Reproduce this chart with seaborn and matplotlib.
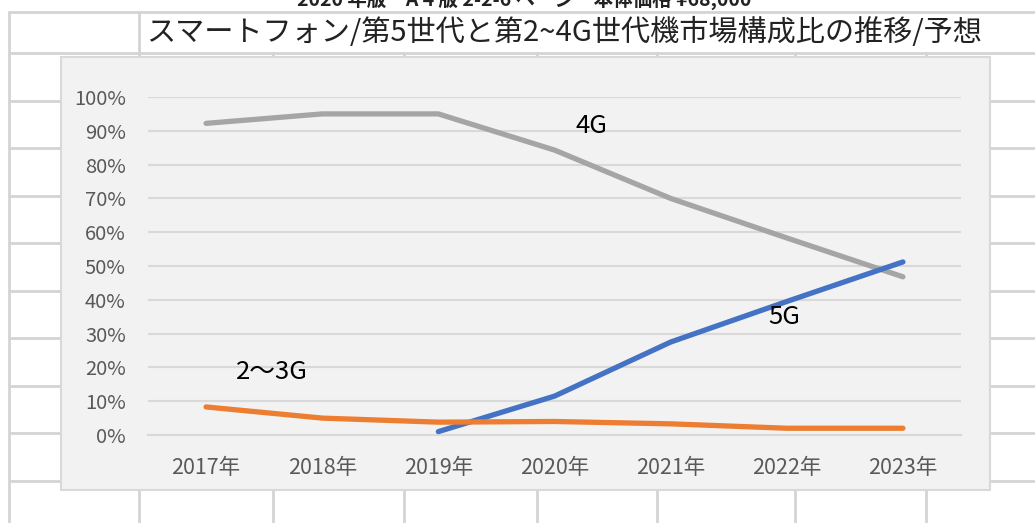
import pandas as pd
import numpy as np
import matplotlib
matplotlib.use("Agg")
import matplotlib.pyplot as plt
from matplotlib.patches import Rectangle
from matplotlib.lines import Line2D
import seaborn as sns

# values (share of smartphone market)
years = ['2017年', '2018年', '2019年', '2020年', '2021年', '2022年', '2023年']
share_4g = [0.922, 0.950, 0.950, 0.843, 0.700, 0.583, 0.468]
share_5g = [np.nan, np.nan, 0.010, 0.115, 0.275, 0.395, 0.512]
share_23g = [0.083, 0.050, 0.038, 0.040, 0.033, 0.020, 0.020]
series_names = ['4G', '5G', '2〜3G']
ytick_vals = [0, 0.1, 0.2, 0.3, 0.4, 0.5, 0.6, 0.7, 0.8, 0.9, 1.0]

df = pd.DataFrame({
    'year': years * 3,
    'share': share_4g + share_5g + share_23g,
    'series': [series_names[0]] * 7 + [series_names[1]] * 7 + [series_names[2]] * 7,
})

sns.set_theme(style='white')
plt.rcParams['font.family'] = ['Noto Sans CJK JP', 'DejaVu Sans']

W, H = 1035, 523
fig = plt.figure(figsize=(W / 100, H / 100), dpi=100, facecolor='white')

def fx(px):
    return px / W

def fy(py):
    return 1 - py / H

# spreadsheet cell lines behind the chart
cell = dict(color='#d4d4d4', lw=2, transform=fig.transFigure, zorder=0)
fig.add_artist(Line2D([fx(9), 1], [fy(12), fy(12)], **cell))
fig.add_artist(Line2D([fx(9), 1], [fy(53), fy(53)], **cell))
fig.add_artist(Line2D([fx(9), fx(9)], [fy(12), 0], **cell))
fig.add_artist(Line2D([fx(139), fx(139)], [fy(12), fy(57)], **cell))
for ry in [101, 148, 196, 243, 291, 338, 386, 433, 481]:
    fig.add_artist(Line2D([fx(9), fx(61)], [fy(ry), fy(ry)], **cell))
    fig.add_artist(Line2D([fx(990), 1], [fy(ry), fy(ry)], **cell))
for cx in [139, 273, 404, 537, 657, 795, 926]:
    fig.add_artist(Line2D([fx(cx), fx(cx)], [fy(490), 0], **cell))
    fig.add_artist(Line2D([fx(cx), fx(cx)], [fy(53), fy(57)], **cell))

# chart area
fig.add_artist(Rectangle((fx(61), fy(490)), fx(990) - fx(61), fy(57) - fy(490),
                         facecolor='#f2f2f2', edgecolor='#d9d9d9', lw=1.5,
                         transform=fig.transFigure, zorder=1))

# header text above the sheet (only its lower part is visible) and the title cell
fig.text(fx(524), fy(6), '2020 年版　A 4 版 2-2-6 ページ　本体価格 ¥68,000',
         ha='center', va='baseline', fontsize=14, fontweight='bold', color='#222222')
fig.text(fx(146), fy(33), 'スマートフォン/第5世代と第2~4G世代機市場構成比の推移/予想',
         ha='left', va='center', fontsize=21, color='#222222')

ax = fig.add_axes([fx(148), fy(435), fx(961) - fx(148), fy(97) - fy(435)])
ax.set_facecolor('none')
ax.set_zorder(2)

palette = {'4G': '#a5a5a5', '5G': '#4472c4', '2〜3G': '#ed7d31'}
sns.lineplot(data=df, x='year', y='share', hue='series', palette=palette,
             linewidth=3.8, solid_capstyle='round', legend=False, ax=ax,
             clip_on=False, zorder=3)

ax.set_xlim(-0.5, 6.5)
ax.set_ylim(0, 1.0)
ax.set_yticks(ytick_vals)
ax.set_yticklabels([f'{int(round(v * 100))}%' for v in ytick_vals])
ax.yaxis.grid(True, color='#d9d9d9', lw=1.5)
ax.set_axisbelow(True)
for s in ax.spines.values():
    s.set_visible(False)
ax.spines['bottom'].set_visible(True)
ax.spines['bottom'].set_color('#d9d9d9')
ax.spines['bottom'].set_linewidth(1.5)
ax.tick_params(axis='y', length=0, pad=16, labelsize=14.5, labelcolor='#595959')
ax.tick_params(axis='x', length=0, pad=16, labelsize=15.5, labelcolor='#595959')
ax.set_xlabel('')
ax.set_ylabel('')

# series labels
ax.text(3.32, 0.915, '4G', fontsize=18.5, color='black', ha='center', va='center')
ax.text(4.98, 0.35, '5G', fontsize=18.5, color='black', ha='center', va='center')
ax.text(0.57, 0.185, '2〜3G', fontsize=18.5, color='black', ha='center', va='center')

fig.savefig('out.png', dpi=100, facecolor='white')
